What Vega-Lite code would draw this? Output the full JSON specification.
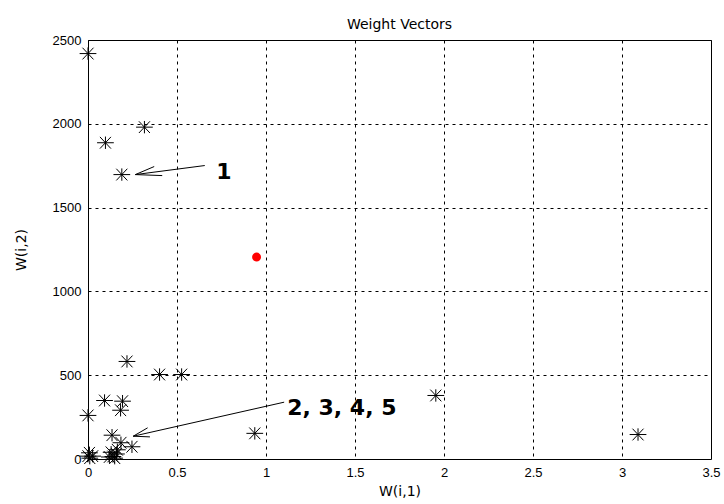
{
  "$schema": "https://vega.github.io/schema/vega-lite/v6.json",
  "width": 623,
  "height": 419,
  "autosize": "none",
  "padding": {"left": 88, "top": 40, "right": 13, "bottom": 45},
  "background": "white",
  "title": {
    "text": "Weight Vectors",
    "font": "DejaVu Sans",
    "fontSize": 14,
    "fontWeight": "normal",
    "color": "#000",
    "anchor": "middle",
    "frame": "group",
    "baseline": "alphabetic",
    "offset": 11,
    "dy": 20
  },
  "config": {
    "view": {"stroke": "#000", "strokeWidth": 1},
    "axis": {
      "grid": true,
      "gridColor": "#000",
      "gridDash": [3, 4],
      "gridWidth": 1,
      "gridOpacity": 1,
      "domain": false,
      "ticks": false,
      "labelFont": "Liberation Sans",
      "labelFontSize": 13,
      "labelColor": "#000",
      "labelFlush": false,
      "labelOverlap": false,
      "titleFont": "DejaVu Sans",
      "titleFontSize": 14,
      "titleFontWeight": "normal",
      "titleColor": "#000"
    }
  },
  "datasets": {
    "weights": [
      {"x": 0.0, "y": 2419},
      {"x": 0.098, "y": 1887},
      {"x": 0.317, "y": 1980},
      {"x": 0.19, "y": 1697},
      {"x": 0.219, "y": 582},
      {"x": 0.402, "y": 504},
      {"x": 0.526, "y": 504},
      {"x": 0.093, "y": 349},
      {"x": 0.194, "y": 345},
      {"x": 0.183, "y": 291},
      {"x": 0.0, "y": 260},
      {"x": 0.135, "y": 142},
      {"x": 0.185, "y": 97},
      {"x": 0.247, "y": 73},
      {"x": 0.937, "y": 153},
      {"x": 1.954, "y": 379},
      {"x": 3.09, "y": 146},
      {"x": 0.008, "y": 37},
      {"x": 0.0, "y": 17},
      {"x": 0.026, "y": 17},
      {"x": 0.01, "y": 5},
      {"x": 0.13, "y": 40},
      {"x": 0.14, "y": 15},
      {"x": 0.15, "y": 5},
      {"x": 0.16, "y": 30},
      {"x": 0.12, "y": 12},
      {"x": 0.165, "y": 55}
    ],
    "centre": [
      {"x": 0.947, "y": 1205}
    ],
    "arrows": [
      {"x": 0.656, "y": 1751, "x2": 0.266, "y2": 1697},
      {"x": 0.266, "y": 1697, "x2": 0.372, "y2": 1745},
      {"x": 0.266, "y": 1697, "x2": 0.417, "y2": 1691},
      {"x": 1.102, "y": 339, "x2": 0.254, "y2": 136},
      {"x": 0.254, "y": 136, "x2": 0.335, "y2": 186},
      {"x": 0.254, "y": 136, "x2": 0.348, "y2": 132}
    ],
    "labels": [
      {"x": 0.72, "y": 1668, "label": "1"},
      {"x": 1.119, "y": 260, "label": "2, 3, 4, 5"}
    ]
  },
  "encoding": {
    "x": {
      "field": "x",
      "type": "quantitative",
      "scale": {"domain": [0, 3.5], "nice": false, "zero": false},
      "axis": {
        "values": [0, 0.5, 1, 1.5, 2, 2.5, 3, 3.5],
        "format": "~g",
        "labelPadding": 7,
        "title": "W(i,1)",
        "titlePadding": 5
      }
    },
    "y": {
      "field": "y",
      "type": "quantitative",
      "scale": {"domain": [0, 2500], "nice": false, "zero": false},
      "axis": {
        "values": [0, 500, 1000, 1500, 2000, 2500],
        "format": "d",
        "labelPadding": 7,
        "title": "W(i,2)",
        "titlePadding": 24
      }
    }
  },
  "layer": [
    {
      "data": {"name": "weights"},
      "mark": {
        "type": "point",
        "shape": "M-1,0L1,0M0,-0.74L0,0.74M-0.66,-0.7L0.66,0.7M-0.66,0.7L0.66,-0.7",
        "size": 280,
        "filled": false,
        "stroke": "#000",
        "strokeWidth": 1,
        "opacity": 1
      }
    },
    {
      "data": {"name": "centre"},
      "mark": {"type": "point", "shape": "circle", "size": 80, "filled": true, "color": "#ff0000", "opacity": 1}
    },
    {
      "data": {"name": "arrows"},
      "mark": {"type": "rule", "color": "#000", "strokeWidth": 1},
      "encoding": {
        "x2": {"field": "x2"},
        "y2": {"field": "y2"}
      }
    },
    {
      "data": {"name": "labels"},
      "mark": {
        "type": "text",
        "font": "DejaVu Sans",
        "fontSize": 22,
        "fontWeight": "bold",
        "align": "left",
        "baseline": "alphabetic",
        "color": "#000"
      },
      "encoding": {
        "text": {"field": "label"}
      }
    }
  ]
}
